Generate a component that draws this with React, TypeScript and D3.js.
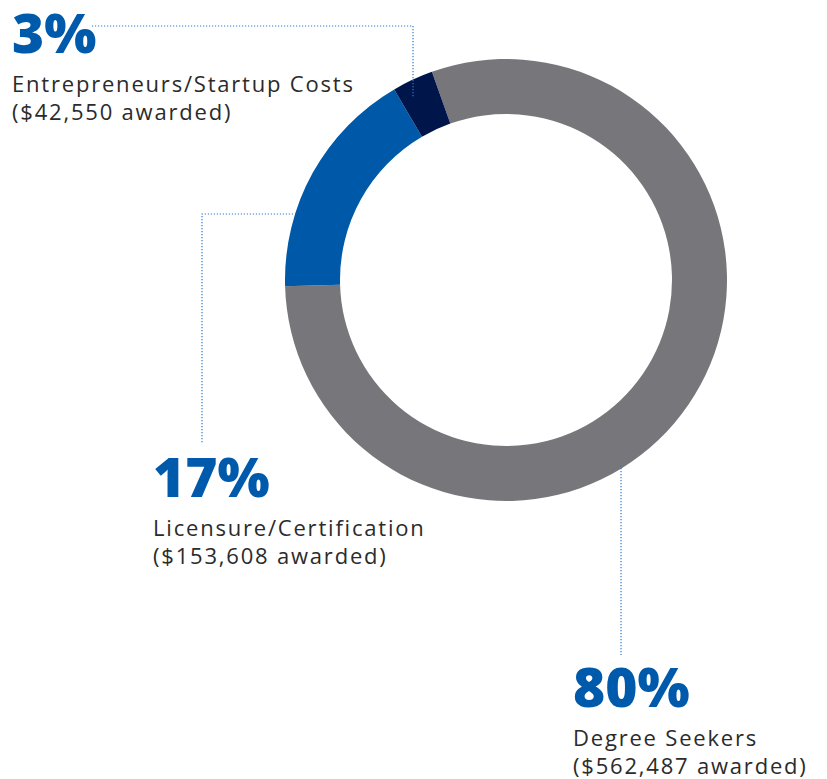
import React from "react";
import * as d3 from "d3";

const categories = ["Degree Seekers", "Licensure/Certification", "Entrepreneurs/Startup Costs"];
const percents = [80, 17, 3];
const awarded = ["$562,487", "$153,608", "$42,550"];
const colors = ["#77777b", "#0059a8", "#00164a"];

const W = 827, H = 779;
const cx = 506, cy = 280, rOuter = 221, rInner = 166;
const startDeg = -19.6;

export default function App() {
  const pie = d3.pie<number>().sort(null).value(d => d)
    .startAngle((startDeg * Math.PI) / 180)
    .endAngle((startDeg * Math.PI) / 180 + 2 * Math.PI);
  const arcs = pie(percents);
  const arc = d3.arc<d3.PieArcDatum<number>>().innerRadius(rInner).outerRadius(rOuter);

  const lineColor = "#2f7bd0";
  const dash = "1.2 1.8";
  const textColor = "#2b2b2b";
  const pctColor = "#005aab";
  const fam = "'Open Sans', sans-serif";

  const labels = [
    { i: 0, x: 573, y: 707 },
    { i: 1, x: 153, y: 497 },
    { i: 2, x: 12, y: 53 },
  ];

  return (
    <svg width={W} height={H} style={{ position: "absolute", left: 0, top: 0, background: "#fff" }}>
      <g transform={`translate(${cx},${cy})`}>
        {arcs.map((a, i) => (
          <path key={i} d={arc(a) || ""} fill={colors[i]} />
        ))}
      </g>
      <g fill="none" stroke={lineColor} strokeWidth={1.2} strokeDasharray={dash}>
        <polyline points="92,26 413,26 413,97" />
        <polyline points="293,214 202,214 202,444" />
        <polyline points="621,465 621,655" />
      </g>
      {labels.map(l => (
        <g key={l.i}>
          <text x={l.x} y={l.y} fill={pctColor} fontFamily={fam} fontWeight={800} fontSize={55}>
            {percents[l.i]}%
          </text>
          <text x={l.x} y={l.y + 39} fill={textColor} fontFamily={fam} fontWeight={400} fontSize={22} letterSpacing={1.8}>
            {categories[l.i]}
          </text>
          <text x={l.x} y={l.y + 67} fill={textColor} fontFamily={fam} fontWeight={400} fontSize={22} letterSpacing={1.8}>
            ({awarded[l.i]} awarded)
          </text>
        </g>
      ))}
    </svg>
  );
}
